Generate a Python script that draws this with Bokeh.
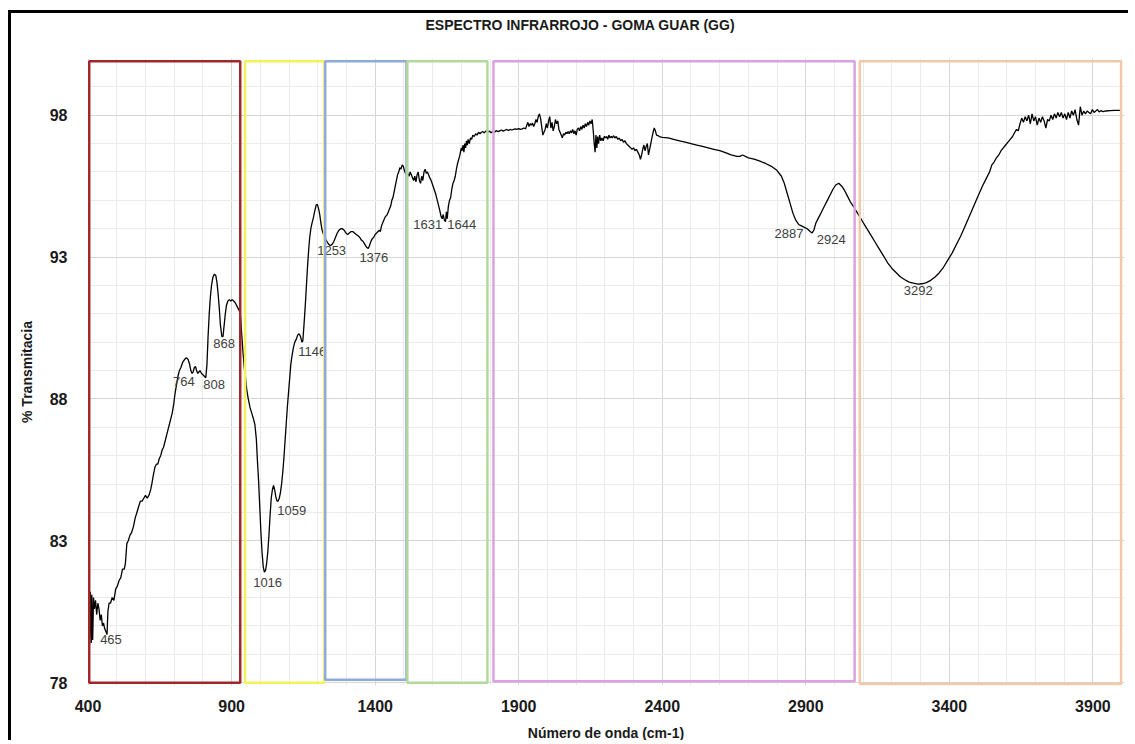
from bokeh.plotting import figure
from bokeh.models import FixedTicker, Range1d, Title
from bokeh.embed import file_html
from bokeh.resources import INLINE
from bokeh.core.properties import value

# ---------------- data ----------------
wavenumber = [
    405, 408, 411, 413, 416, 419, 422, 426, 430, 434, 438, 442, 446, 450, 454, 458, 462, 466, 469, 473,
    478, 484, 490, 496, 502, 508, 514, 520, 526, 530, 535, 540, 546, 552, 558, 564, 570, 576, 582, 588,
    594, 600, 606, 612, 618, 622, 627, 633, 638, 643, 648, 653, 658, 663, 668, 673, 678, 683, 688, 693,
    698, 703, 708, 713, 718, 723, 730, 737, 742, 748, 753, 758, 762, 766, 770, 774, 778, 782, 786, 790,
    795, 800, 805, 810, 814, 818, 822, 826, 830, 835, 840, 845, 849, 853, 857, 861, 866, 870, 874, 878,
    882, 887, 892, 897, 902, 907, 912, 917, 922, 927, 931, 935, 940, 944, 948, 953, 958, 964, 970, 976,
    981, 986, 990, 994, 998, 1002, 1006, 1010, 1014, 1018, 1022, 1026, 1030, 1034, 1038, 1042, 1046, 1050, 1054, 1058,
    1062, 1066, 1070, 1074, 1078, 1082, 1086, 1090, 1094, 1098, 1102, 1106, 1110, 1115, 1120, 1125, 1130, 1135, 1140, 1145,
    1148, 1152, 1156, 1160, 1164, 1168, 1172, 1176, 1180, 1185, 1190, 1195, 1199, 1203, 1207, 1211, 1215, 1220, 1226, 1232,
    1238, 1244, 1250, 1256, 1262, 1268, 1274, 1280, 1286, 1292, 1298, 1304, 1310, 1316, 1322, 1328, 1334, 1340, 1346, 1352,
    1358, 1364, 1370, 1376, 1380, 1385, 1390, 1395, 1400, 1405, 1410, 1414, 1418, 1422, 1426, 1430, 1434, 1438, 1442, 1446,
    1450, 1454, 1458, 1462, 1466, 1470, 1474, 1478, 1482, 1486, 1490, 1494, 1498, 1502, 1506, 1510, 1514, 1518, 1522, 1526,
    1530, 1534, 1538, 1542, 1546, 1550, 1554, 1558, 1562, 1566, 1570, 1574, 1578, 1582, 1586, 1590, 1595, 1600, 1605, 1610,
    1615, 1620, 1625, 1629, 1633, 1637, 1641, 1645, 1648, 1651, 1655, 1659, 1663, 1667, 1671, 1675, 1679, 1683, 1687, 1691,
    1694, 1697, 1700, 1703, 1706, 1709, 1712, 1715, 1718, 1721, 1724, 1728, 1732, 1736, 1740, 1745, 1750, 1755, 1760, 1765,
    1770, 1775, 1780, 1786, 1792, 1798, 1804, 1810, 1816, 1822, 1828, 1834, 1840, 1846, 1852, 1858, 1864, 1870, 1876, 1882,
    1888, 1894, 1900, 1906, 1912, 1918, 1924, 1928, 1932, 1936, 1940, 1944, 1948, 1952, 1956, 1960, 1964, 1968, 1972, 1976,
    1980, 1984, 1988, 1992, 1996, 2000, 2004, 2008, 2012, 2016, 2020, 2024, 2028, 2032, 2036, 2040, 2044, 2048, 2052, 2056,
    2060, 2064, 2068, 2072, 2076, 2080, 2084, 2088, 2092, 2096, 2100, 2104, 2108, 2112, 2116, 2120, 2124, 2128, 2132, 2136,
    2140, 2144, 2148, 2152, 2156, 2160, 2163, 2166, 2169, 2172, 2175, 2178, 2182, 2186, 2190, 2194, 2198, 2202, 2206, 2210,
    2214, 2218, 2222, 2226, 2230, 2235, 2240, 2245, 2250, 2255, 2260, 2265, 2270, 2275, 2280, 2285, 2290, 2295, 2300, 2305,
    2310, 2315, 2320, 2324, 2328, 2332, 2336, 2340, 2344, 2348, 2352, 2356, 2360, 2364, 2368, 2372, 2376, 2380, 2385, 2390,
    2400, 2420, 2440, 2460, 2480, 2500, 2520, 2540, 2560, 2580, 2600, 2620, 2640, 2660, 2670, 2680, 2700, 2720, 2740, 2760,
    2780, 2800, 2815, 2825, 2835, 2845, 2855, 2865, 2875, 2885, 2895, 2905, 2915, 2922, 2928, 2935, 2945, 2955, 2965, 2975,
    2985, 2995, 3005, 3015, 3025, 3035, 3045, 3055, 3065, 3080, 3095, 3110, 3125, 3140, 3155, 3170, 3185, 3200, 3215, 3230,
    3245, 3260, 3275, 3290, 3305, 3320, 3335, 3350, 3365, 3380, 3395, 3410, 3425, 3440, 3455, 3470, 3485, 3500, 3515, 3530,
    3540, 3548, 3556, 3564, 3572, 3580, 3588, 3596, 3604, 3612, 3620, 3628, 3634, 3640, 3646, 3652, 3658, 3664, 3670, 3676,
    3682, 3688, 3694, 3700, 3706, 3712, 3718, 3724, 3730, 3736, 3742, 3748, 3754, 3760, 3766, 3772, 3778, 3784, 3790, 3796,
    3802, 3808, 3814, 3820, 3826, 3832, 3838, 3844, 3850, 3856, 3862, 3868, 3874, 3880, 3886, 3892, 3898, 3904, 3910, 3916,
    3922, 3928, 3935, 3945, 3960, 3975, 3995,
]
transmittance = [
    79.3, 81.2, 79.4, 81.1, 79.5, 81.0, 80.6, 80.9, 80.4, 80.8, 80.6, 80.2, 80.4, 80.0, 80.1, 79.9, 79.8, 79.7, 80.5, 80.8,
    80.8, 81.0, 80.9, 81.3, 81.4, 81.6, 81.7, 82.0, 82.0, 82.2, 82.9, 83.0, 83.2, 83.3, 83.5, 83.8, 84.0, 84.2, 84.4, 84.4,
    84.5, 84.6, 84.5, 84.6, 84.8, 85.0, 85.3, 85.6, 85.7, 85.7, 85.9, 86.0, 86.2, 86.3, 86.5, 86.7, 86.9, 87.1, 87.3, 87.5,
    87.8, 88.2, 88.5, 88.8, 89.0, 89.1, 89.3, 89.4, 89.45, 89.4, 89.25, 89.0, 88.9, 88.95, 89.1, 89.15, 89.0, 88.9, 88.95, 89.0,
    88.9, 88.85, 88.8, 88.75, 89.2, 90.2, 91.0, 91.6, 92.0, 92.3, 92.4, 92.35, 92.1, 91.7, 91.2, 90.6, 90.2, 90.2, 90.6, 91.0,
    91.3, 91.45, 91.5, 91.45, 91.5, 91.45, 91.4, 91.3, 91.2, 91.1, 90.9, 90.3, 89.6, 89.1, 88.8, 88.3, 88.0, 87.7, 87.5, 87.3,
    87.1, 86.6, 85.8, 85.1, 84.2, 83.3, 82.6, 82.1, 81.9, 81.95, 82.2, 82.6, 83.2, 83.9, 84.5, 84.8, 84.95, 84.8, 84.55, 84.4,
    84.4, 84.5, 84.7, 85.0, 85.4, 85.9, 86.5, 87.1, 87.7, 88.2, 88.7, 89.2, 89.5, 89.8, 90.0, 90.1, 90.25, 90.3, 90.2, 90.0,
    90.05, 90.6, 91.2, 91.9, 92.6, 93.2, 93.7, 94.0, 94.2, 94.4, 94.65, 94.85, 94.85, 94.7, 94.5, 94.2, 93.95, 93.8, 93.65, 93.55,
    93.45, 93.4, 93.45, 93.55, 93.7, 93.85, 93.95, 94.0, 94.0, 93.95, 93.85, 93.8, 93.85, 93.9, 93.9, 93.85, 93.8, 93.75, 93.7, 93.6,
    93.55, 93.45, 93.35, 93.3, 93.4, 93.55, 93.65, 93.7, 93.8, 93.85, 93.9, 93.95, 93.9, 94.1, 94.2, 94.3, 94.4, 94.45, 94.5, 94.6,
    94.7, 94.8, 95.0, 95.1, 95.3, 95.5, 95.7, 95.9, 96.0, 96.15, 96.1, 96.25, 96.2, 96.05, 95.95, 96.0, 95.95, 95.85, 96.0, 95.9,
    95.8, 95.7, 95.85, 95.65, 95.9, 96.0, 95.7, 95.6, 95.85, 95.7, 96.0, 96.1, 95.95, 96.0, 95.9, 95.8, 95.7, 95.55, 95.4, 95.25,
    95.05, 94.85, 94.65, 94.45, 94.35, 94.5, 94.3, 94.25, 94.6, 94.35, 94.8, 95.0, 95.1, 95.4, 95.6, 95.7, 95.85, 96.1, 96.3, 96.45,
    96.55, 96.7, 96.85, 96.75, 96.95, 96.7, 97.0, 96.85, 97.1, 96.95, 97.15, 97.0, 97.2, 97.15, 97.3, 97.25, 97.35, 97.3, 97.4, 97.35,
    97.4, 97.42, 97.38, 97.45, 97.4, 97.44, 97.38, 97.43, 97.4, 97.46, 97.42, 97.45, 97.48, 97.44, 97.47, 97.5, 97.46, 97.5, 97.48, 97.5,
    97.52, 97.5, 97.53, 97.5, 97.52, 97.55, 97.52, 97.65, 97.75, 97.6, 97.7, 97.65, 97.72, 97.6, 97.7, 97.85, 97.75, 97.95, 98.05, 97.9,
    97.6, 97.3, 97.4, 97.5, 97.7, 97.55, 97.8, 97.95, 97.55, 97.75, 97.45, 97.6, 97.85, 97.7, 97.8, 97.5, 97.4, 97.3, 97.2, 97.35,
    97.3, 97.4, 97.35, 97.42, 97.35, 97.45, 97.38, 97.5, 97.35, 97.45, 97.3, 97.5, 97.55, 97.45, 97.6, 97.5, 97.65, 97.55, 97.7, 97.6,
    97.75, 97.65, 97.8, 97.7, 97.85, 97.4, 97.0, 96.7, 97.3, 96.85, 97.25, 97.0, 97.3, 97.1, 97.2, 97.1, 97.25, 97.2, 97.25, 97.15,
    97.3, 97.2, 97.25, 97.2, 97.28, 97.2, 97.25, 97.15, 97.2, 97.1, 97.15, 97.05, 97.1, 97.0, 96.95, 96.9, 96.85, 96.8, 96.85, 96.75,
    96.8, 96.7, 96.6, 96.45, 96.6, 96.8, 96.95, 96.75, 96.9, 97.0, 96.6, 96.8, 97.0, 97.2, 97.4, 97.55, 97.45, 97.3, 97.28, 97.25,
    97.22, 97.2, 97.15, 97.1, 97.05, 97.0, 96.95, 96.9, 96.85, 96.8, 96.75, 96.68, 96.6, 96.55, 96.55, 96.6, 96.5, 96.45, 96.38, 96.3,
    96.2, 96.05, 95.85, 95.6, 95.25, 94.9, 94.55, 94.3, 94.15, 94.1, 94.05, 94.0, 93.9, 93.85, 93.95, 94.2, 94.4, 94.6, 94.8, 95.0,
    95.2, 95.4, 95.55, 95.6, 95.5, 95.35, 95.15, 94.95, 94.8, 94.55, 94.3, 94.05, 93.8, 93.55, 93.3, 93.05, 92.8, 92.6, 92.45, 92.3,
    92.2, 92.12, 92.08, 92.05, 92.06, 92.1, 92.18, 92.3, 92.45, 92.65, 92.9, 93.15, 93.45, 93.75, 94.1, 94.45, 94.8, 95.15, 95.5, 95.8,
    96.0, 96.25, 96.35, 96.5, 96.6, 96.75, 96.85, 96.95, 97.05, 97.15, 97.25, 97.4, 97.5, 97.45, 97.7, 97.9, 97.75, 97.95, 97.8, 98.0,
    97.7, 98.05, 97.8, 97.95, 97.65, 97.9, 97.75, 97.95, 97.8, 97.55, 97.85, 97.8, 98.0, 97.85, 98.05, 97.9, 98.1, 97.95, 98.1, 97.9,
    98.05, 97.85, 98.1, 97.9, 98.15, 98.0, 98.2, 97.85, 97.65, 98.3, 98.0, 98.15, 98.05, 98.15, 98.1, 98.05, 98.2, 98.1, 98.15, 98.2,
    98.12, 98.16, 98.13, 98.15, 98.16, 98.17, 98.17,
]

peak_labels = ["465", "764", "808", "868", "1016", "1059", "1146", "1253", "1376",
               "1631", "1644", "2887", "2924", "3292"]
label_x = [442, 696, 801, 836, 975, 1059, 1132, 1198, 1345, 1533, 1651, 2791, 2938, 3241]
label_y = [79.52, 88.61, 88.50, 89.95, 81.53, 84.07, 89.67, 93.22, 92.97, 94.14, 94.14, 93.82, 93.61, 91.81]

# spectral regions (boxes)
region_start = [404, 947, 1226, 1512, 1812, 3088]
region_end = [930, 1223, 1509, 1791, 3070, 3998]
region_top = [99.9, 99.9, 99.9, 99.9, 99.9, 99.9]
region_bottom = [78.0, 78.0, 78.1, 78.0, 78.05, 77.95]
region_colors = ["#a0282c", "#f4f25a", "#8eaadc", "#b3d89b", "#d9a2e2", "#f2c8aa"]

x_ticks = [400, 900, 1400, 1900, 2400, 2900, 3400, 3900]
x_minor = list(range(400, 4001, 100))
y_ticks = [78, 83, 88, 93, 98]
y_minor = list(range(78, 101))

# ---------------- figure ----------------
p = figure(width=1120, height=730, output_backend="svg", toolbar_location=None,
           x_range=Range1d(398, 4010), y_range=Range1d(77.9, 100),
           min_border_left=76, min_border_right=7, min_border_top=45, min_border_bottom=58,
           background_fill_color="white", border_fill_color="white",
           styles={"margin-left": "8px", "margin-top": "10px",
                   "border-left": "3px solid black", "border-top": "3px solid black"})
p.outline_line_color = None

# empty spacer title between the frame and the chart title
p.add_layout(Title(text=" ", text_font_size="14px", standoff=4, vertical_align="top"), "above")

p.title.text = "ESPECTRO INFRARROJO - GOMA GUAR (GG)"
p.title.text_font = "Liberation Sans"
p.title.text_font_size = "14px"
p.title.text_font_style = "bold"
p.title.text_color = "#1a1a1a"
p.title.align = "left"
p.title.offset = 338
p.title.vertical_align = "top"
p.title.standoff = 4

for ax in (p.xaxis[0], p.yaxis[0]):
    ax.axis_line_color = None
    ax.major_tick_line_color = None
    ax.minor_tick_line_color = None
    ax.major_label_text_font = "Liberation Sans"
    ax.major_label_text_font_size = "16px"
    ax.major_label_text_font_style = "bold"
    ax.major_label_text_color = "#1a1a1a"
    ax.axis_label_text_font = "Liberation Sans"
    ax.axis_label_text_font_size = "14px"
    ax.axis_label_text_font_style = "bold"
    ax.axis_label_text_color = "#1a1a1a"

p.xaxis.ticker = FixedTicker(ticks=x_ticks, minor_ticks=x_minor)
p.yaxis.ticker = FixedTicker(ticks=y_ticks, minor_ticks=y_minor)
p.xaxis.axis_label = "Número de onda (cm-1)"
p.yaxis.axis_label = "% Transmitacia"
p.xaxis.major_label_standoff = 8
p.yaxis.major_label_standoff = 14
p.xaxis.axis_label_standoff = 10
p.yaxis.axis_label_standoff = 12

p.xgrid.grid_line_color = "#d6d6d6"
p.xgrid.minor_grid_line_color = "#ebebeb"
p.ygrid.grid_line_color = "#d6d6d6"
p.ygrid.minor_grid_line_color = "#ebebeb"

p.line(wavenumber, transmittance, line_color="black", line_width=1.3)

p.text(x=label_x, y=label_y, text=peak_labels, text_font=value("Liberation Sans"),
       text_font_size=value("13px"), text_color="#404040",
       text_baseline="middle", text_align="left")

p.quad(left=region_start, right=region_end, top=region_top, bottom=region_bottom,
       fill_color=None, line_color=region_colors, line_width=2.5)

open("out.html", "w").write(file_html(p, INLINE))
